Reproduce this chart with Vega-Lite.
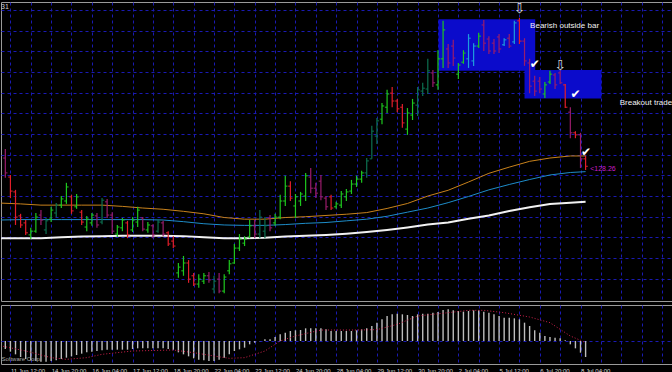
{
"$schema": "https://vega.github.io/schema/vega-lite/v6.json",
"background": "#000000",
"padding": {"left": 0, "top": 1, "right": 0, "bottom": 0},
"spacing": 2,
"config": {
 "view": {"stroke": "#9A9A9A", "strokeWidth": 1, "fill": "#000000"},
 "axis": {"labels": false, "ticks": false, "tickSize": 0, "domain": false, "grid": true, "gridColor": "#1A1AB4", "gridDash": [3, 3], "gridOpacity": 1, "gridWidth": 1, "minExtent": 0},
 "text": {"font": "Liberation Sans"}
},
"datasets": {
 "bars": [
{"j":0,"o":128.42,"h":128.64,"l":127.94,"c":128.06,"k":"dnB"},
{"j":1,"o":127.96,"h":128.01,"l":127.45,"c":127.62,"k":"dnA"},
{"j":2,"o":127.60,"h":127.65,"l":126.80,"c":126.99,"k":"dnA"},
{"j":3,"o":127.02,"h":127.07,"l":126.73,"c":126.80,"k":"dnA"},
{"j":4,"o":126.85,"h":126.92,"l":126.56,"c":126.61,"k":"dnA"},
{"j":5,"o":126.56,"h":126.73,"l":126.46,"c":126.65,"k":"upA"},
{"j":6,"o":126.65,"h":127.09,"l":126.61,"c":126.99,"k":"upA"},
{"j":7,"o":127.04,"h":127.16,"l":126.80,"c":126.92,"k":"dnB"},
{"j":8,"o":126.68,"h":126.97,"l":126.58,"c":126.90,"k":"upB"},
{"j":9,"o":126.94,"h":127.24,"l":126.87,"c":127.16,"k":"upA"},
{"j":10,"o":127.09,"h":127.33,"l":126.99,"c":127.28,"k":"upB"},
{"j":11,"o":127.28,"h":127.50,"l":127.21,"c":127.43,"k":"upA"},
{"j":12,"o":127.38,"h":127.82,"l":127.31,"c":127.72,"k":"upA"},
{"j":13,"o":127.48,"h":127.53,"l":127.07,"c":127.14,"k":"dnA"},
{"j":14,"o":127.24,"h":127.55,"l":127.19,"c":127.48,"k":"upA"},
{"j":15,"o":127.11,"h":127.16,"l":126.80,"c":126.87,"k":"dnA"},
{"j":16,"o":126.75,"h":127.02,"l":126.65,"c":126.94,"k":"upA"},
{"j":17,"o":126.85,"h":127.09,"l":126.78,"c":127.04,"k":"upA"},
{"j":18,"o":127.02,"h":127.09,"l":126.73,"c":126.80,"k":"dnB"},
{"j":19,"o":126.87,"h":127.45,"l":126.82,"c":127.40,"k":"upB"},
{"j":20,"o":127.36,"h":127.43,"l":126.97,"c":127.04,"k":"dnB"},
{"j":21,"o":127.04,"h":127.11,"l":126.58,"c":126.65,"k":"dnB"},
{"j":22,"o":126.58,"h":126.80,"l":126.51,"c":126.75,"k":"upA"},
{"j":23,"o":126.73,"h":126.97,"l":126.65,"c":126.92,"k":"upA"},
{"j":24,"o":126.85,"h":126.90,"l":126.48,"c":126.56,"k":"dnA"},
{"j":25,"o":126.68,"h":126.99,"l":126.63,"c":126.92,"k":"upA"},
{"j":26,"o":126.87,"h":127.24,"l":126.75,"c":127.16,"k":"upA"},
{"j":27,"o":126.97,"h":126.99,"l":126.65,"c":126.70,"k":"dnB"},
{"j":28,"o":126.68,"h":126.87,"l":126.61,"c":126.80,"k":"upA"},
{"j":29,"o":126.78,"h":126.82,"l":126.48,"c":126.56,"k":"dnB"},
{"j":30,"o":126.65,"h":126.94,"l":126.61,"c":126.87,"k":"upB"},
{"j":31,"o":126.85,"h":126.90,"l":126.53,"c":126.58,"k":"dnB"},
{"j":32,"o":126.61,"h":126.65,"l":126.29,"c":126.34,"k":"dnA"},
{"j":33,"o":126.41,"h":126.53,"l":126.24,"c":126.29,"k":"dnA"},
{"j":34,"o":125.64,"h":125.88,"l":125.52,"c":125.78,"k":"upA"},
{"j":35,"o":125.69,"h":126.05,"l":125.57,"c":125.88,"k":"upA"},
{"j":36,"o":125.88,"h":125.95,"l":125.40,"c":125.49,"k":"dnA"},
{"j":37,"o":125.57,"h":125.64,"l":125.32,"c":125.37,"k":"dnA"},
{"j":38,"o":125.37,"h":125.61,"l":125.28,"c":125.49,"k":"upA"},
{"j":39,"o":125.44,"h":125.64,"l":125.37,"c":125.57,"k":"upA"},
{"j":40,"o":125.57,"h":125.66,"l":125.40,"c":125.47,"k":"dnB"},
{"j":41,"o":125.25,"h":125.57,"l":125.15,"c":125.44,"k":"upB"},
{"j":42,"o":125.49,"h":125.64,"l":125.15,"c":125.20,"k":"dnB"},
{"j":43,"o":125.20,"h":125.61,"l":125.15,"c":125.54,"k":"upA"},
{"j":44,"o":125.69,"h":125.95,"l":125.61,"c":125.86,"k":"upA"},
{"j":45,"o":125.88,"h":126.34,"l":125.86,"c":126.24,"k":"upA"},
{"j":46,"o":126.24,"h":126.58,"l":126.17,"c":126.46,"k":"upA"},
{"j":47,"o":126.36,"h":126.53,"l":126.29,"c":126.46,"k":"upA"},
{"j":48,"o":126.51,"h":126.92,"l":126.48,"c":126.78,"k":"upA"},
{"j":49,"o":126.78,"h":126.92,"l":126.48,"c":126.58,"k":"dnB"},
{"j":50,"o":126.58,"h":127.16,"l":126.48,"c":126.99,"k":"upB"},
{"j":51,"o":126.65,"h":126.99,"l":126.48,"c":126.78,"k":"upB"},
{"j":52,"o":126.97,"h":127.04,"l":126.65,"c":126.73,"k":"dnB"},
{"j":53,"o":126.85,"h":127.07,"l":126.78,"c":126.99,"k":"upA"},
{"j":54,"o":126.99,"h":127.53,"l":126.94,"c":127.38,"k":"upA"},
{"j":55,"o":127.38,"h":127.99,"l":127.26,"c":127.74,"k":"upA"},
{"j":56,"o":127.74,"h":127.86,"l":127.38,"c":127.45,"k":"dnA"},
{"j":57,"o":127.26,"h":127.55,"l":126.97,"c":127.48,"k":"upA"},
{"j":58,"o":127.38,"h":127.60,"l":127.26,"c":127.55,"k":"upA"},
{"j":59,"o":127.50,"h":128.06,"l":127.38,"c":127.99,"k":"upA"},
{"j":60,"o":127.96,"h":128.18,"l":127.57,"c":127.69,"k":"dnB"},
{"j":61,"o":127.69,"h":127.82,"l":127.45,"c":127.57,"k":"dnB"},
{"j":62,"o":127.86,"h":128.01,"l":127.40,"c":127.48,"k":"dnB"},
{"j":63,"o":127.45,"h":127.50,"l":127.16,"c":127.24,"k":"dnB"},
{"j":64,"o":127.48,"h":127.53,"l":127.16,"c":127.21,"k":"dnA"},
{"j":65,"o":127.24,"h":127.36,"l":127.19,"c":127.31,"k":"upA"},
{"j":66,"o":127.28,"h":127.62,"l":127.21,"c":127.55,"k":"upA"},
{"j":67,"o":127.48,"h":127.67,"l":127.38,"c":127.60,"k":"upA"},
{"j":68,"o":127.62,"h":127.89,"l":127.55,"c":127.79,"k":"upA"},
{"j":69,"o":127.79,"h":127.99,"l":127.72,"c":127.91,"k":"upA"},
{"j":70,"o":127.91,"h":128.11,"l":127.82,"c":128.06,"k":"upA"},
{"j":71,"o":128.06,"h":128.42,"l":127.94,"c":128.35,"k":"upB"},
{"j":72,"o":128.40,"h":129.20,"l":128.40,"c":129.07,"k":"upB"},
{"j":73,"o":128.95,"h":129.39,"l":128.76,"c":129.32,"k":"upB"},
{"j":74,"o":129.36,"h":129.75,"l":129.24,"c":129.68,"k":"upA"},
{"j":75,"o":129.65,"h":130.07,"l":129.51,"c":129.97,"k":"upA"},
{"j":76,"o":129.99,"h":130.14,"l":129.65,"c":129.80,"k":"dnA"},
{"j":77,"o":129.80,"h":129.85,"l":129.53,"c":129.61,"k":"dnA"},
{"j":78,"o":129.65,"h":129.73,"l":129.15,"c":129.27,"k":"dnA"},
{"j":79,"o":129.12,"h":129.63,"l":128.98,"c":129.51,"k":"upA"},
{"j":80,"o":129.46,"h":129.85,"l":129.34,"c":129.75,"k":"upA"},
{"j":81,"o":129.70,"h":130.14,"l":129.44,"c":130.07,"k":"upB"},
{"j":82,"o":130.04,"h":130.24,"l":129.92,"c":130.11,"k":"upB"},
{"j":83,"o":130.09,"h":130.82,"l":129.97,"c":130.53,"k":"upB"},
{"j":84,"o":130.48,"h":130.55,"l":130.14,"c":130.24,"k":"dnB"},
{"j":85,"o":130.19,"h":131.03,"l":130.07,"c":130.82,"k":"upA"},
{"j":86,"o":130.82,"h":131.74,"l":130.60,"c":131.52,"k":"upA"},
{"j":87,"o":131.06,"h":131.18,"l":130.60,"c":130.72,"k":"dnB"},
{"j":88,"o":131.13,"h":131.28,"l":130.65,"c":130.84,"k":"dnB"},
{"j":89,"o":130.45,"h":130.72,"l":130.33,"c":130.67,"k":"upA"},
{"j":90,"o":130.74,"h":131.03,"l":130.70,"c":130.96,"k":"upA"},
{"j":91,"o":130.82,"h":131.42,"l":130.60,"c":131.32,"k":"upC"},
{"j":92,"o":130.77,"h":131.20,"l":130.65,"c":131.13,"k":"upC"},
{"j":93,"o":131.13,"h":131.45,"l":131.08,"c":131.37,"k":"upA"},
{"j":94,"o":131.64,"h":131.76,"l":131.01,"c":131.20,"k":"dnB"},
{"j":95,"o":131.30,"h":131.37,"l":130.94,"c":131.01,"k":"dnB"},
{"j":96,"o":131.20,"h":131.30,"l":130.94,"c":131.01,"k":"dnB"},
{"j":97,"o":131.35,"h":131.42,"l":130.96,"c":131.06,"k":"dnB"},
{"j":98,"o":131.16,"h":131.32,"l":131.13,"c":131.28,"k":"upC"},
{"j":99,"o":131.32,"h":131.42,"l":131.08,"c":131.13,"k":"dnB"},
{"j":100,"o":131.23,"h":131.74,"l":131.18,"c":131.69,"k":"upC"},
{"j":101,"o":131.74,"h":131.81,"l":131.18,"c":131.25,"k":"dnA"},
{"j":102,"o":131.25,"h":131.32,"l":130.65,"c":130.77,"k":"dnB"},
{"j":103,"o":130.72,"h":130.82,"l":129.99,"c":130.16,"k":"dnB"},
{"j":104,"o":130.28,"h":130.41,"l":129.92,"c":130.04,"k":"dnB"},
{"j":105,"o":130.28,"h":130.38,"l":129.99,"c":130.09,"k":"dnB"},
{"j":106,"o":129.97,"h":130.26,"l":129.87,"c":130.19,"k":"upA"},
{"j":107,"o":130.26,"h":130.53,"l":130.21,"c":130.45,"k":"upA"},
{"j":108,"o":130.43,"h":130.48,"l":130.09,"c":130.19,"k":"dnB"},
{"j":109,"o":130.48,"h":130.53,"l":130.21,"c":130.24,"k":"dnB"},
{"j":110,"o":130.19,"h":130.21,"l":129.63,"c":129.65,"k":"dnA"},
{"j":111,"o":129.53,"h":129.65,"l":128.90,"c":129.03,"k":"dnB"},
{"j":112,"o":129.03,"h":129.07,"l":128.90,"c":128.98,"k":"dnA"},
{"j":113,"o":128.98,"h":129.03,"l":128.18,"c":128.40,"k":"dnB"},
{"j":114,"o":128.40,"h":128.47,"l":128.13,"c":128.22,"k":"dnA"}
 ],
 "ma": [
{"j":-1,"fast":127.33,"mid":126.92,"slow":126.48},
{"j":3,"fast":127.31,"mid":126.93,"slow":126.48},
{"j":7,"fast":127.28,"mid":126.93,"slow":126.48},
{"j":11,"fast":127.28,"mid":126.93,"slow":126.50},
{"j":15,"fast":127.28,"mid":126.93,"slow":126.52},
{"j":19,"fast":127.28,"mid":126.93,"slow":126.53},
{"j":23,"fast":127.25,"mid":126.93,"slow":126.54},
{"j":27,"fast":127.21,"mid":126.93,"slow":126.54},
{"j":31,"fast":127.18,"mid":126.92,"slow":126.54},
{"j":35,"fast":127.13,"mid":126.88,"slow":126.53},
{"j":39,"fast":127.07,"mid":126.83,"slow":126.50},
{"j":43,"fast":126.98,"mid":126.80,"slow":126.48},
{"j":47,"fast":126.94,"mid":126.79,"slow":126.48},
{"j":51,"fast":126.94,"mid":126.79,"slow":126.49},
{"j":55,"fast":126.98,"mid":126.81,"slow":126.52},
{"j":59,"fast":127.00,"mid":126.84,"slow":126.54},
{"j":63,"fast":127.03,"mid":126.86,"slow":126.56},
{"j":67,"fast":127.06,"mid":126.90,"slow":126.59},
{"j":71,"fast":127.10,"mid":126.94,"slow":126.63},
{"j":75,"fast":127.20,"mid":127.01,"slow":126.68},
{"j":79,"fast":127.32,"mid":127.11,"slow":126.74},
{"j":83,"fast":127.50,"mid":127.21,"slow":126.81},
{"j":87,"fast":127.64,"mid":127.34,"slow":126.86},
{"j":91,"fast":127.84,"mid":127.49,"slow":126.95},
{"j":95,"fast":128.05,"mid":127.65,"slow":127.03},
{"j":99,"fast":128.20,"mid":127.78,"slow":127.14},
{"j":103,"fast":128.34,"mid":127.90,"slow":127.23},
{"j":107,"fast":128.42,"mid":128.01,"slow":127.31},
{"j":111,"fast":128.47,"mid":128.07,"slow":127.34},
{"j":114,"fast":128.47,"mid":128.09,"slow":127.36}
 ],
 "boxes": [
{"j":85.1,"j2":104.1,"p":131.78,"p2":130.53},
{"j":102.0,"j2":117.1,"p":130.55,"p2":129.86}
 ],
 "notes": [
{"t":"label","j":103.1,"p":131.62,"s":"Bearish outside bar"},
{"t":"label","j":120.7,"p":129.75,"s":"Breakout trade"},
{"t":"arrow","j":101,"p":132.03,"s":"⇩"},
{"t":"arrow","j":109,"p":130.65,"s":"⇩"},
{"t":"check","j":104,"p":130.70,"s":"✔"},
{"t":"check","j":112,"p":129.97,"s":"✔"},
{"t":"check","j":114.1,"p":128.57,"s":"✔"},
{"t":"price","j":114.9,"p":128.15,"s":"<128.26"},
{"t":"corner","j":-0.85,"p":132.07,"s":"31"}
 ],
 "macd": [
{"j":0,"v":-0.12},{"j":1,"v":-0.16},{"j":2,"v":-0.20},{"j":3,"v":-0.24},{"j":4,"v":-0.27},{"j":5,"v":-0.29},{"j":6,"v":-0.30},{"j":7,"v":-0.31},{"j":8,"v":-0.31},{"j":9,"v":-0.30},
{"j":10,"v":-0.29},{"j":11,"v":-0.27},{"j":12,"v":-0.25},{"j":13,"v":-0.23},{"j":14,"v":-0.21},{"j":15,"v":-0.19},{"j":16,"v":-0.17},{"j":17,"v":-0.16},{"j":18,"v":-0.15},{"j":19,"v":-0.14},
{"j":20,"v":-0.13},{"j":21,"v":-0.13},{"j":22,"v":-0.13},{"j":23,"v":-0.13},{"j":24,"v":-0.13},{"j":25,"v":-0.12},{"j":26,"v":-0.11},{"j":27,"v":-0.11},{"j":28,"v":-0.11},{"j":29,"v":-0.11},
{"j":30,"v":-0.11},{"j":31,"v":-0.11},{"j":32,"v":-0.12},{"j":33,"v":-0.13},{"j":34,"v":-0.17},{"j":35,"v":-0.20},{"j":36,"v":-0.23},{"j":37,"v":-0.26},{"j":38,"v":-0.28},{"j":39,"v":-0.29},
{"j":40,"v":-0.30},{"j":41,"v":-0.30},{"j":42,"v":-0.28},{"j":43,"v":-0.25},{"j":44,"v":-0.20},{"j":45,"v":-0.15},{"j":46,"v":-0.125},{"j":47,"v":-0.10},{"j":48,"v":-0.05},{"j":49,"v":-0.025},
{"j":50,"v":-0.005},{"j":51,"v":0.025},{"j":52,"v":0.025},{"j":53,"v":0.06},{"j":54,"v":0.10},{"j":55,"v":0.125},{"j":56,"v":0.15},{"j":57,"v":0.16},{"j":58,"v":0.165},{"j":59,"v":0.19},
{"j":60,"v":0.19},{"j":61,"v":0.19},{"j":62,"v":0.19},{"j":63,"v":0.175},{"j":64,"v":0.15},{"j":65,"v":0.15},{"j":66,"v":0.15},{"j":67,"v":0.15},{"j":68,"v":0.15},{"j":69,"v":0.16},
{"j":70,"v":0.175},{"j":71,"v":0.19},{"j":72,"v":0.225},{"j":73,"v":0.275},{"j":74,"v":0.325},{"j":75,"v":0.375},{"j":76,"v":0.40},{"j":77,"v":0.41},{"j":78,"v":0.40},{"j":79,"v":0.39},
{"j":80,"v":0.375},{"j":81,"v":0.40},{"j":82,"v":0.41},{"j":83,"v":0.41},{"j":84,"v":0.425},{"j":85,"v":0.435},{"j":86,"v":0.465},{"j":87,"v":0.475},{"j":88,"v":0.46},{"j":89,"v":0.45},
{"j":90,"v":0.44},{"j":91,"v":0.45},{"j":92,"v":0.46},{"j":93,"v":0.46},{"j":94,"v":0.44},{"j":95,"v":0.425},{"j":96,"v":0.40},{"j":97,"v":0.375},{"j":98,"v":0.35},{"j":99,"v":0.35},
{"j":100,"v":0.34},{"j":101,"v":0.325},{"j":102,"v":0.275},{"j":103,"v":0.225},{"j":104,"v":0.16},{"j":105,"v":0.125},{"j":106,"v":0.075},{"j":107,"v":0.06},{"j":108,"v":0.05},{"j":109,"v":0.04},
{"j":110,"v":0.01},{"j":111,"v":-0.05},{"j":112,"v":-0.11},{"j":113,"v":-0.175},{"j":114,"v":-0.24}
 ],
 "sig": [
{"j":-1,"s":-0.07},{"j":4,"s":-0.15},{"j":9,"s":-0.25},{"j":12,"s":-0.275},{"j":16,"s":-0.25},{"j":19,"s":-0.20},{"j":25,"s":-0.15},{"j":33,"s":-0.135},{"j":37,"s":-0.175},{"j":41,"s":-0.225},
{"j":44,"s":-0.26},{"j":47,"s":-0.25},{"j":51,"s":-0.15},{"j":54,"s":0.0},{"j":57,"s":0.075},{"j":62,"s":0.165},{"j":69,"s":0.165},{"j":73,"s":0.17},{"j":77,"s":0.25},{"j":81,"s":0.375},
{"j":87,"s":0.425},{"j":91,"s":0.46},{"j":94,"s":0.46},{"j":98,"s":0.425},{"j":103,"s":0.36},{"j":107,"s":0.275},{"j":109,"s":0.175},{"j":111,"s":0.075},{"j":113,"s":0.01},{"j":114,"s":-0.025}
 ],
 "credit": [
{"j":7.1,"v":-0.2625,"s":"Software Corp."}
 ]
},
"vconcat": [
{
 "width": 672,
 "height": 299,
 "layer": [
  {
   "data": {"name": "boxes"},
   "mark": {"type": "rect", "color": "#0B0BCB", "clip": true},
   "encoding": {
    "x": {"field": "j", "type": "quantitative", "scale": {"domain": [-0.85, 131.17], "nice": false, "zero": false}, "axis": {"values": [1,5,9,13,17,21,25,29,33,37,41,45,49,53,57,61,65,69,73,77,81,85,89,93,97,101,105,109,113,117,121,125,129], "title": null}},
    "x2": {"field": "j2"},
    "y": {"field": "p", "type": "quantitative", "scale": {"domain": [124.96, 132.196], "nice": false, "zero": false}, "axis": {"values": [125.5,126,126.5,127,127.5,128,128.5,129,129.5,130,130.5,131,131.5,132], "title": null}},
    "y2": {"field": "p2"}
   }
  },
  {
   "mark": {"type": "rule", "color": "#962866", "strokeDash": [2, 1], "strokeWidth": 1.5},
   "encoding": {
    "y": {"datum": 129.79, "type": "quantitative", "scale": {"domain": [124.96, 132.196], "nice": false, "zero": false}, "axis": {"values": [125.5,126,126.5,127,127.5,128,128.5,129,129.5,130,130.5,131,131.5,132], "title": null}}
   }
  },
  {
   "mark": {"type": "rule", "color": "#4A3CC0", "strokeDash": [1, 1], "strokeWidth": 1},
   "encoding": {
    "y": {"datum": 128.22, "type": "quantitative", "scale": {"domain": [124.96, 132.196], "nice": false, "zero": false}, "axis": {"values": [125.5,126,126.5,127,127.5,128,128.5,129,129.5,130,130.5,131,131.5,132], "title": null}}
   }
  },
  {
   "data": {"name": "ma"},
   "mark": {"type": "line", "color": "#C8821C", "strokeWidth": 1, "clip": true},
   "encoding": {
    "x": {"field": "j", "type": "quantitative", "scale": {"domain": [-0.85, 131.17], "nice": false, "zero": false}, "axis": {"values": [1,5,9,13,17,21,25,29,33,37,41,45,49,53,57,61,65,69,73,77,81,85,89,93,97,101,105,109,113,117,121,125,129], "title": null}},
    "y": {"field": "fast", "type": "quantitative", "scale": {"domain": [124.96, 132.196], "nice": false, "zero": false}, "axis": {"values": [125.5,126,126.5,127,127.5,128,128.5,129,129.5,130,130.5,131,131.5,132], "title": null}}
   }
  },
  {
   "data": {"name": "ma"},
   "mark": {"type": "line", "color": "#1E8CC8", "strokeWidth": 1, "clip": true},
   "encoding": {
    "x": {"field": "j", "type": "quantitative", "scale": {"domain": [-0.85, 131.17], "nice": false, "zero": false}, "axis": {"values": [1,5,9,13,17,21,25,29,33,37,41,45,49,53,57,61,65,69,73,77,81,85,89,93,97,101,105,109,113,117,121,125,129], "title": null}},
    "y": {"field": "mid", "type": "quantitative", "scale": {"domain": [124.96, 132.196], "nice": false, "zero": false}, "axis": {"values": [125.5,126,126.5,127,127.5,128,128.5,129,129.5,130,130.5,131,131.5,132], "title": null}}
   }
  },
  {
   "data": {"name": "ma"},
   "mark": {"type": "line", "color": "#F2F2F2", "strokeWidth": 2, "clip": true},
   "encoding": {
    "x": {"field": "j", "type": "quantitative", "scale": {"domain": [-0.85, 131.17], "nice": false, "zero": false}, "axis": {"values": [1,5,9,13,17,21,25,29,33,37,41,45,49,53,57,61,65,69,73,77,81,85,89,93,97,101,105,109,113,117,121,125,129], "title": null}},
    "y": {"field": "slow", "type": "quantitative", "scale": {"domain": [124.96, 132.196], "nice": false, "zero": false}, "axis": {"values": [125.5,126,126.5,127,127.5,128,128.5,129,129.5,130,130.5,131,131.5,132], "title": null}}
   }
  },
  {
   "data": {"name": "bars"},
   "mark": {"type": "rule", "strokeWidth": 1.2},
   "encoding": {
    "x": {"field": "j", "type": "quantitative", "scale": {"domain": [-0.85, 131.17], "nice": false, "zero": false}, "axis": {"values": [1,5,9,13,17,21,25,29,33,37,41,45,49,53,57,61,65,69,73,77,81,85,89,93,97,101,105,109,113,117,121,125,129], "title": null}},
    "y": {"field": "h", "type": "quantitative", "scale": {"domain": [124.96, 132.196], "nice": false, "zero": false}, "axis": {"values": [125.5,126,126.5,127,127.5,128,128.5,129,129.5,130,130.5,131,131.5,132], "title": null}},
    "y2": {"field": "l"},
    "color": {"field": "k", "type": "nominal", "scale": {"domain": ["upA","upB","upC","dnA","dnB"], "range": ["#1EC81E","#0D7050","#1E9CDC","#E21E2A","#9A1C6C"]}, "legend": null}
   }
  },
  {
   "data": {"name": "bars"},
   "mark": {"type": "rule", "strokeWidth": 1, "xOffset": -2.2},
   "encoding": {
    "x": {"field": "j", "type": "quantitative", "scale": {"domain": [-0.85, 131.17], "nice": false, "zero": false}, "axis": {"values": [1,5,9,13,17,21,25,29,33,37,41,45,49,53,57,61,65,69,73,77,81,85,89,93,97,101,105,109,113,117,121,125,129], "title": null}},
    "x2": {"field": "j"},
    "y": {"field": "o", "type": "quantitative", "scale": {"domain": [124.96, 132.196], "nice": false, "zero": false}, "axis": {"values": [125.5,126,126.5,127,127.5,128,128.5,129,129.5,130,130.5,131,131.5,132], "title": null}},
    "color": {"field": "k", "type": "nominal", "scale": {"domain": ["upA","upB","upC","dnA","dnB"], "range": ["#1EC81E","#0D7050","#1E9CDC","#E21E2A","#9A1C6C"]}, "legend": null}
   }
  },
  {
   "data": {"name": "bars"},
   "mark": {"type": "rule", "strokeWidth": 1, "x2Offset": 2.2},
   "encoding": {
    "x": {"field": "j", "type": "quantitative", "scale": {"domain": [-0.85, 131.17], "nice": false, "zero": false}, "axis": {"values": [1,5,9,13,17,21,25,29,33,37,41,45,49,53,57,61,65,69,73,77,81,85,89,93,97,101,105,109,113,117,121,125,129], "title": null}},
    "x2": {"field": "j"},
    "y": {"field": "c", "type": "quantitative", "scale": {"domain": [124.96, 132.196], "nice": false, "zero": false}, "axis": {"values": [125.5,126,126.5,127,127.5,128,128.5,129,129.5,130,130.5,131,131.5,132], "title": null}},
    "color": {"field": "k", "type": "nominal", "scale": {"domain": ["upA","upB","upC","dnA","dnB"], "range": ["#1EC81E","#0D7050","#1E9CDC","#E21E2A","#9A1C6C"]}, "legend": null}
   }
  },
  {
   "data": {"name": "notes"},
   "transform": [{"filter": "datum.t == 'label'"}],
   "mark": {"type": "text", "align": "left", "baseline": "middle", "color": "#F0F0F0", "fontSize": 8, "font": "Liberation Sans", "clip": true},
   "encoding": {
    "x": {"field": "j", "type": "quantitative", "scale": {"domain": [-0.85, 131.17], "nice": false, "zero": false}, "axis": {"values": [1,5,9,13,17,21,25,29,33,37,41,45,49,53,57,61,65,69,73,77,81,85,89,93,97,101,105,109,113,117,121,125,129], "title": null}},
    "y": {"field": "p", "type": "quantitative", "scale": {"domain": [124.96, 132.196], "nice": false, "zero": false}, "axis": {"values": [125.5,126,126.5,127,127.5,128,128.5,129,129.5,130,130.5,131,131.5,132], "title": null}},
    "text": {"field": "s"}
   }
  },
  {
   "data": {"name": "notes"},
   "transform": [{"filter": "datum.t == 'arrow'"}],
   "mark": {"type": "text", "align": "center", "baseline": "middle", "color": "#D8D8D8", "fontSize": 14, "font": "DejaVu Sans", "clip": true},
   "encoding": {
    "x": {"field": "j", "type": "quantitative", "scale": {"domain": [-0.85, 131.17], "nice": false, "zero": false}, "axis": {"values": [1,5,9,13,17,21,25,29,33,37,41,45,49,53,57,61,65,69,73,77,81,85,89,93,97,101,105,109,113,117,121,125,129], "title": null}},
    "y": {"field": "p", "type": "quantitative", "scale": {"domain": [124.96, 132.196], "nice": false, "zero": false}, "axis": {"values": [125.5,126,126.5,127,127.5,128,128.5,129,129.5,130,130.5,131,131.5,132], "title": null}},
    "text": {"field": "s"}
   }
  },
  {
   "data": {"name": "notes"},
   "transform": [{"filter": "datum.t == 'check'"}],
   "mark": {"type": "text", "align": "center", "baseline": "middle", "color": "#FFFFFF", "fontSize": 12, "font": "DejaVu Sans", "clip": true},
   "encoding": {
    "x": {"field": "j", "type": "quantitative", "scale": {"domain": [-0.85, 131.17], "nice": false, "zero": false}, "axis": {"values": [1,5,9,13,17,21,25,29,33,37,41,45,49,53,57,61,65,69,73,77,81,85,89,93,97,101,105,109,113,117,121,125,129], "title": null}},
    "y": {"field": "p", "type": "quantitative", "scale": {"domain": [124.96, 132.196], "nice": false, "zero": false}, "axis": {"values": [125.5,126,126.5,127,127.5,128,128.5,129,129.5,130,130.5,131,131.5,132], "title": null}},
    "text": {"field": "s"}
   }
  },
  {
   "data": {"name": "notes"},
   "transform": [{"filter": "datum.t == 'price'"}],
   "mark": {"type": "text", "align": "left", "baseline": "middle", "color": "#C81EC8", "fontSize": 7, "font": "Liberation Sans", "clip": true},
   "encoding": {
    "x": {"field": "j", "type": "quantitative", "scale": {"domain": [-0.85, 131.17], "nice": false, "zero": false}, "axis": {"values": [1,5,9,13,17,21,25,29,33,37,41,45,49,53,57,61,65,69,73,77,81,85,89,93,97,101,105,109,113,117,121,125,129], "title": null}},
    "y": {"field": "p", "type": "quantitative", "scale": {"domain": [124.96, 132.196], "nice": false, "zero": false}, "axis": {"values": [125.5,126,126.5,127,127.5,128,128.5,129,129.5,130,130.5,131,131.5,132], "title": null}},
    "text": {"field": "s"}
   }
  },
  {
   "data": {"name": "notes"},
   "transform": [{"filter": "datum.t == 'corner'"}],
   "mark": {"type": "text", "align": "left", "baseline": "middle", "color": "#D0D0D0", "fontSize": 7, "font": "Liberation Sans", "clip": true},
   "encoding": {
    "x": {"field": "j", "type": "quantitative", "scale": {"domain": [-0.85, 131.17], "nice": false, "zero": false}, "axis": {"values": [1,5,9,13,17,21,25,29,33,37,41,45,49,53,57,61,65,69,73,77,81,85,89,93,97,101,105,109,113,117,121,125,129], "title": null}},
    "y": {"field": "p", "type": "quantitative", "scale": {"domain": [124.96, 132.196], "nice": false, "zero": false}, "axis": {"values": [125.5,126,126.5,127,127.5,128,128.5,129,129.5,130,130.5,131,131.5,132], "title": null}},
    "text": {"field": "s"}
   }
  }
 ]
},
{
 "width": 672,
 "height": 59,
 "layer": [
  {
   "data": {"name": "macd"},
   "mark": {"type": "rule", "color": "#BDBDBD", "strokeWidth": 1.4},
   "encoding": {
    "x": {"field": "j", "type": "quantitative", "scale": {"domain": [-0.85, 131.17], "nice": false, "zero": false}, "axis": {"values": [1,5,9,13,17,21,25,29,33,37,41,45,49,53,57,61,65,69,73,77,81,85,89,93,97,101,105,109,113,117,121,125,129], "title": null, "labels": true, "labelExpr": "(datum.value - 1) % 8 == 0 ? (['11 Jun 12:00','14 Jun 20:00','16 Jun 04:00','17 Jun 12:00','18 Jun 20:00','22 Jun 04:00','23 Jun 12:00','24 Jun 20:00','28 Jun 04:00','29 Jun 12:00','30 Jun 20:00','2 Jul 04:00','5 Jul 12:00','6 Jul 20:00','8 Jul 04:00'][(datum.value - 1) / 8] || '') : ''", "labelAlign": "left", "labelBaseline": "top", "labelFontSize": 6, "labelFont": "Liberation Sans", "labelColor": "#D8D8D8", "labelPadding": 3, "labelOverlap": false, "labelFlush": false, "labelBound": false}},
    "y": {"field": "v", "type": "quantitative", "scale": {"domain": [-0.345, 0.54], "nice": false, "zero": false}, "axis": {"values": [0], "title": null}},
    "y2": {"datum": 0}
   }
  },
  {
   "data": {"name": "sig"},
   "mark": {"type": "line", "color": "#D0204C", "strokeWidth": 1, "strokeDash": [1, 2], "clip": true},
   "encoding": {
    "x": {"field": "j", "type": "quantitative", "scale": {"domain": [-0.85, 131.17], "nice": false, "zero": false}, "axis": {"values": [1,5,9,13,17,21,25,29,33,37,41,45,49,53,57,61,65,69,73,77,81,85,89,93,97,101,105,109,113,117,121,125,129], "title": null, "labels": true, "labelExpr": "(datum.value - 1) % 8 == 0 ? (['11 Jun 12:00','14 Jun 20:00','16 Jun 04:00','17 Jun 12:00','18 Jun 20:00','22 Jun 04:00','23 Jun 12:00','24 Jun 20:00','28 Jun 04:00','29 Jun 12:00','30 Jun 20:00','2 Jul 04:00','5 Jul 12:00','6 Jul 20:00','8 Jul 04:00'][(datum.value - 1) / 8] || '') : ''", "labelAlign": "left", "labelBaseline": "top", "labelFontSize": 6, "labelFont": "Liberation Sans", "labelColor": "#D8D8D8", "labelPadding": 3, "labelOverlap": false, "labelFlush": false, "labelBound": false}},
    "y": {"field": "s", "type": "quantitative", "scale": {"domain": [-0.345, 0.54], "nice": false, "zero": false}, "axis": {"values": [0], "title": null}}
   }
  },
  {
   "data": {"name": "credit"},
   "mark": {"type": "text", "align": "right", "baseline": "middle", "color": "#A8A8A8", "fontSize": 6, "font": "Liberation Sans", "clip": true},
   "encoding": {
    "x": {"field": "j", "type": "quantitative", "scale": {"domain": [-0.85, 131.17], "nice": false, "zero": false}, "axis": {"values": [1,5,9,13,17,21,25,29,33,37,41,45,49,53,57,61,65,69,73,77,81,85,89,93,97,101,105,109,113,117,121,125,129], "title": null, "labels": true, "labelExpr": "(datum.value - 1) % 8 == 0 ? (['11 Jun 12:00','14 Jun 20:00','16 Jun 04:00','17 Jun 12:00','18 Jun 20:00','22 Jun 04:00','23 Jun 12:00','24 Jun 20:00','28 Jun 04:00','29 Jun 12:00','30 Jun 20:00','2 Jul 04:00','5 Jul 12:00','6 Jul 20:00','8 Jul 04:00'][(datum.value - 1) / 8] || '') : ''", "labelAlign": "left", "labelBaseline": "top", "labelFontSize": 6, "labelFont": "Liberation Sans", "labelColor": "#D8D8D8", "labelPadding": 3, "labelOverlap": false, "labelFlush": false, "labelBound": false}},
    "y": {"field": "v", "type": "quantitative", "scale": {"domain": [-0.345, 0.54], "nice": false, "zero": false}, "axis": {"values": [0], "title": null}},
    "text": {"field": "s"}
   }
  }
 ]
}
]
}
